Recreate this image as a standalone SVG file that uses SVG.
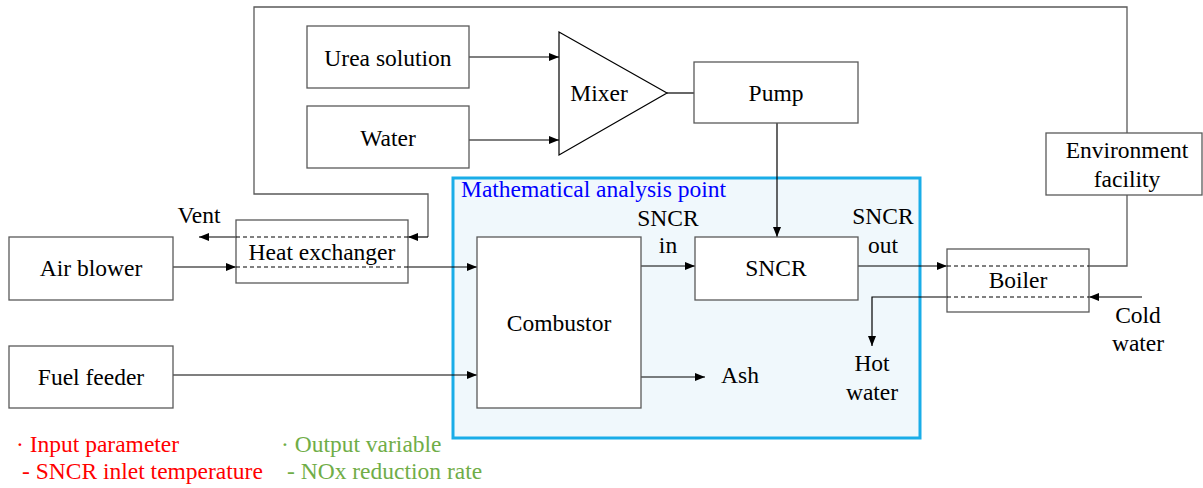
<svg xmlns="http://www.w3.org/2000/svg" width="1203" height="488" viewBox="0 0 1203 488">
<defs>
<marker id="ah" markerWidth="10" markerHeight="8" refX="10" refY="4" orient="auto" markerUnits="userSpaceOnUse">
<path d="M0,0 L10,4 L0,8 Z" fill="#000"/>
</marker>
<style>
.box{fill:#fff;stroke:#595959;stroke-width:1.3}
.t{font-family:"Liberation Serif","Times New Roman",serif;font-size:23.5px;fill:#000;text-anchor:middle}
.ln{fill:none;stroke:#000;stroke-width:1.2}
.gl{fill:none;stroke:#595959;stroke-width:1.3}
.da{stroke:#000;stroke-width:1;stroke-dasharray:4,3}
.arr{fill:none;stroke:#000;stroke-width:1.2;marker-end:url(#ah)}
.leg{font-family:"Liberation Serif","Times New Roman",serif;font-size:23.5px}
</style>
</defs>
<rect width="1203" height="488" fill="#fff"/>

<g id="analysis-region">
<rect x="453" y="178" width="467" height="260" fill="#F0F8FC" stroke="#1AADE8" stroke-width="3"/>
<text x="461" y="197" class="leg" fill="#0000FF">Mathematical analysis point</text>
</g>

<g id="connectors">
<polyline class="gl" points="1127,133 1127,7 254,7 254,194 428,194 428,237"/>
<path class="arr" d="M428,237 L408,237"/>
<path class="arr" d="M236,237 L199,237"/>
<path class="arr" d="M173,267 L236,267"/>
<path class="arr" d="M408,267 L477,267"/>
<path class="arr" d="M173,375 L477,375"/>
<path class="arr" d="M469,57 L559,57"/>
<path class="arr" d="M469,140 L559,140"/>
<path class="ln" d="M667,93 L694,93"/>
<path class="arr" d="M777,123 L777,237"/>
<path class="arr" d="M641,266 L695,266"/>
<path class="arr" d="M641,377 L705,377"/>
<path class="arr" d="M858,266 L947,266"/>
<polyline class="gl" points="1089,266 1127,266 1127,195"/>
<path class="arr" d="M1142,297 L1089,297"/>
<polyline class="arr" points="947,297 872,297 872,346"/>
</g>

<g id="urea-solution"><rect class="box" x="307" y="26" width="162" height="62"/><text class="t" x="388" y="66">Urea solution</text></g>
<g id="water"><rect class="box" x="307" y="106" width="162" height="62"/><text class="t" x="388" y="146">Water</text></g>
<g id="mixer"><polygon points="559,32 667,93 559,155" fill="#fff" stroke="#000" stroke-width="1.2"/><text class="t" x="599" y="101">Mixer</text></g>
<g id="pump"><rect class="box" x="694" y="62" width="164" height="61"/><text class="t" x="776" y="101">Pump</text></g>
<g id="environment-facility"><rect class="box" x="1046" y="133" width="156" height="62"/><text class="t" x="1127" y="158">Environment</text><text class="t" x="1127" y="187">facility</text></g>
<g id="heat-exchanger"><rect class="box" x="236" y="220" width="172" height="63"/><line class="da" x1="236" y1="237" x2="408" y2="237"/><line class="da" x1="236" y1="267" x2="408" y2="267"/><text class="t" x="322" y="260">Heat exchanger</text></g>
<g id="vent-label"><text class="t" x="199" y="223">Vent</text></g>
<g id="air-blower"><rect class="box" x="9" y="237" width="164" height="63"/><text class="t" x="91" y="276">Air blower</text></g>
<g id="fuel-feeder"><rect class="box" x="9" y="346" width="164" height="62"/><text class="t" x="91" y="385">Fuel feeder</text></g>
<g id="combustor"><rect class="box" x="477" y="237" width="164" height="171"/><text class="t" x="559" y="331">Combustor</text></g>
<g id="sncr"><rect class="box" x="695" y="237" width="163" height="63"/><text class="t" x="776" y="276">SNCR</text></g>
<g id="sncr-in-label"><text class="t" x="668" y="226">SNCR</text><text class="t" x="668" y="253">in</text></g>
<g id="sncr-out-label"><text class="t" x="883" y="224">SNCR</text><text class="t" x="883" y="253">out</text></g>
<g id="boiler"><rect class="box" x="947" y="249" width="142" height="63"/><line class="da" x1="947" y1="266" x2="1089" y2="266"/><line class="da" x1="947" y1="297" x2="1089" y2="297"/><text class="t" x="1018" y="288">Boiler</text></g>
<g id="ash-label"><text class="t" x="740" y="383">Ash</text></g>
<g id="hot-water-label"><text class="t" x="872" y="371">Hot</text><text class="t" x="872" y="400">water</text></g>
<g id="cold-water-label"><text class="t" x="1138" y="323">Cold</text><text class="t" x="1138" y="351">water</text></g>

<g id="legend">
<text class="leg" x="16" y="452" fill="#FF0000">· Input parameter</text>
<text class="leg" x="22" y="479" fill="#FF0000">- SNCR inlet temperature</text>
<text class="leg" x="281" y="452" fill="#70AD47">· Output variable</text>
<text class="leg" x="287" y="479" fill="#70AD47">- NOx reduction rate</text>
</g>
</svg>
